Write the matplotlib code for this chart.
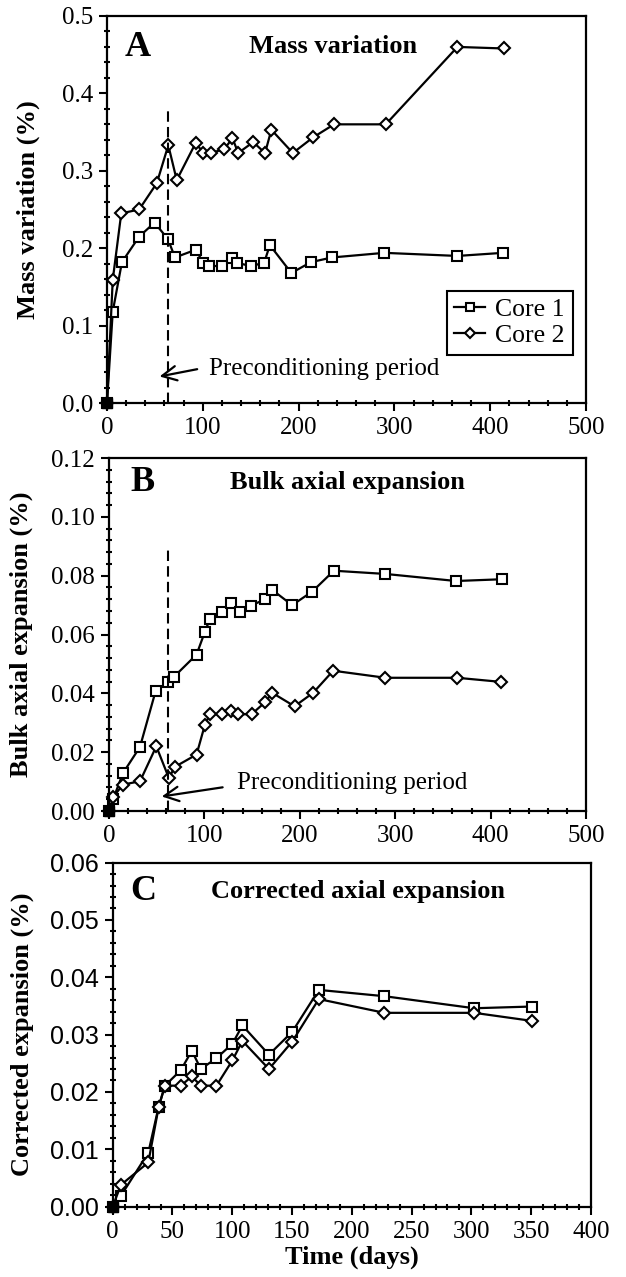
import matplotlib.pyplot as plt
from matplotlib.ticker import MultipleLocator, FormatStrFormatter

plt.rcParams["font.family"] = "Liberation Serif"

# panel A - mass variation
a_days1 = [0, 6, 15.6, 33.6, 49.6, 63.5, 71, 92.6, 100.6, 106.5, 120.3, 130, 136, 150, 164, 170, 192.4, 213, 234.7, 289.5, 365.8, 413.3]
a_core1 = [0, 0.118, 0.182, 0.215, 0.233, 0.212, 0.188, 0.198, 0.181, 0.177, 0.177, 0.187, 0.181, 0.177, 0.181, 0.204, 0.168, 0.182, 0.188, 0.194, 0.190, 0.194]
a_days2 = [0, 6, 14.9, 33.6, 52, 64, 72.8, 92.6, 100.6, 108.5, 122.4, 131, 137, 152.6, 165, 171.6, 194, 215, 237, 291, 365.8, 414]
a_core2 = [0, 0.159, 0.245, 0.250, 0.284, 0.333, 0.288, 0.336, 0.323, 0.323, 0.328, 0.342, 0.323, 0.337, 0.323, 0.353, 0.323, 0.343, 0.360, 0.360, 0.460, 0.458]

# panel B - bulk axial expansion
b_days1 = [0, 4.5, 14.7, 32.5, 48.9, 61.8, 68, 91.8, 100.6, 105.8, 118, 128, 136.9, 148.4, 164, 171, 192, 213, 235.7, 289.8, 363.8, 412]
b_core1 = [0, 0.0042, 0.0129, 0.0218, 0.0408, 0.0437, 0.0456, 0.0532, 0.0610, 0.0653, 0.0676, 0.0708, 0.0676, 0.0698, 0.0720, 0.0752, 0.0700, 0.0746, 0.0817, 0.0806, 0.0782, 0.0788]
b_days2 = [0, 4.5, 14.7, 32.5, 49.6, 62.8, 69, 91.8, 100.6, 105.8, 118.7, 127.4, 135, 149.4, 164, 171, 194.5, 214, 235, 289.8, 364.9, 411]
b_core2 = [0, 0.0048, 0.0090, 0.0101, 0.0220, 0.0112, 0.0150, 0.0192, 0.0294, 0.0329, 0.0329, 0.0340, 0.0329, 0.0329, 0.0371, 0.0402, 0.0356, 0.0402, 0.0477, 0.0453, 0.0453, 0.0439]

# panel C - corrected axial expansion
c_days = [0, 6.9, 29.8, 38.4, 43.7, 57, 66.2, 73.7, 86.8, 100.1, 108.5, 130.7, 150.2, 172.4, 227.3, 302.4, 350.5]
c_core1 = [0, 0.0019, 0.0094, 0.0174, 0.0211, 0.0238, 0.0272, 0.0240, 0.0259, 0.0284, 0.0316, 0.0265, 0.0305, 0.0378, 0.0367, 0.0346, 0.0349]
c_core2 = [0, 0.0038, 0.0077, 0.0173, 0.0211, 0.0211, 0.0227, 0.0211, 0.0211, 0.0255, 0.0289, 0.0240, 0.0288, 0.0362, 0.0338, 0.0338, 0.0324]

labels = ["Core 1", "Core 2"]

fig = plt.figure(figsize=(6.26, 12.77), dpi=100)

axA = fig.add_axes([0.1709, 0.6844, 0.7652, 0.3031])
axB = fig.add_axes([0.1741, 0.3649, 0.7620, 0.2764])
axC = fig.add_axes([0.1800, 0.0551, 0.7640, 0.2694])

sq = dict(marker="s", ms=7, mfc="white", mec="black", mew=1.5, color="black", lw=1.6, clip_on=False)
dm = dict(marker="D", ms=6.5, mfc="white", mec="black", mew=1.5, color="black", lw=1.6, clip_on=False)


def style(ax, xmax, xmaj, xmin, ymax, ymaj, ymin, yfmt, yfont):
    ax.set_xlim(0, xmax)
    ax.set_ylim(0, ymax)
    ax.xaxis.set_major_locator(MultipleLocator(xmaj))
    ax.xaxis.set_minor_locator(MultipleLocator(xmin))
    ax.yaxis.set_major_locator(MultipleLocator(ymaj))
    ax.yaxis.set_minor_locator(MultipleLocator(ymin))
    ax.yaxis.set_major_formatter(FormatStrFormatter(yfmt))
    ax.tick_params(which="major", direction="out", length=6, width=1.5, labelsize=18, pad=4)
    ax.tick_params(which="minor", direction="inout", length=4, width=1.5)
    for lab in ax.get_yticklabels():
        lab.set_family(yfont)
    for s in ax.spines.values():
        s.set_linewidth(1.6)


def origin(ax, x, y):
    # the start point is drawn as a solid block
    ax.plot(x[0], y[0], "s", ms=7, color="black", clip_on=False, zorder=5)


# A
axA.plot(a_days1, a_core1, label=labels[0], **sq)
axA.plot(a_days2, a_core2, label=labels[1], **dm)
origin(axA, a_days1, a_core1)
axA.plot([64, 64], [0, 0.38], "k", lw=1.5, dashes=(5, 2.5))
style(axA, 500, 100, 20, 0.5, 0.1, 0.02, "%.1f", "Liberation Serif")
axA.set_ylabel("Mass variation (%)", fontsize=19, fontweight="bold")
axA.yaxis.set_label_coords(-0.14, 0.5)
axA.text(32, 0.459, "A", fontsize=26, fontweight="bold", ha="center", va="center")
axA.text(236, 0.461, "Mass variation", fontsize=19, fontweight="bold", ha="center", va="center")
axA.annotate("", xy=(52, 0.0336), xytext=(97, 0.0444),
             arrowprops=dict(arrowstyle="->", color="black", lw=1.6, mutation_scale=26))
axA.text(106, 0.036, "Preconditioning period", fontsize=18, ha="left", va="baseline")
leg = axA.legend(loc="lower right", bbox_to_anchor=(0.972, 0.125), fontsize=18.5, fancybox=False,
                 framealpha=1, edgecolor="black", handlelength=1.2, handletextpad=0.4,
                 borderpad=0.3, labelspacing=0.1, borderaxespad=0, markerscale=0.8)
leg.get_frame().set_linewidth(1.5)

# B
axB.plot(b_days1, b_core1, **sq)
axB.plot(b_days2, b_core2, **dm)
origin(axB, b_days1, b_core1)
axB.plot([62, 62], [0, 0.089], "k", lw=1.5, dashes=(5, 2.5))
style(axB, 500, 100, 20, 0.12, 0.02, 0.004, "%.2f", "Liberation Serif")
axB.set_ylabel("Bulk axial expansion (%)", fontsize=19, fontweight="bold")
axB.yaxis.set_label_coords(-0.159, 0.5)
axB.text(35.6, 0.1118, "B", fontsize=26, fontweight="bold", ha="center", va="center")
axB.text(250, 0.1117, "Bulk axial expansion", fontsize=19, fontweight="bold", ha="center", va="center")
axB.annotate("", xy=(52.4, 0.0048), xytext=(122, 0.0082),
             arrowprops=dict(arrowstyle="->", color="black", lw=1.6, mutation_scale=26))
axB.text(134, 0.0076, "Preconditioning period", fontsize=18, ha="left", va="baseline")

# C
axC.plot(c_days, c_core1, **sq)
axC.plot(c_days, c_core2, **dm)
origin(axC, c_days, c_core1)
style(axC, 400, 50, 10, 0.06, 0.01, 0.002, "%.2f", "Liberation Sans")
axC.set_ylabel("Corrected expansion (%)", fontsize=19, fontweight="bold")
axC.yaxis.set_label_coords(-0.165, 0.5)
axC.set_xlabel("Time (days)", fontsize=19, fontweight="bold", labelpad=2)
axC.text(25.6, 0.0549, "C", fontsize=26, fontweight="bold", ha="center", va="center")
axC.text(205, 0.0549, "Corrected axial expansion", fontsize=19, fontweight="bold", ha="center", va="center")

plt.savefig("out.png", dpi=100)
